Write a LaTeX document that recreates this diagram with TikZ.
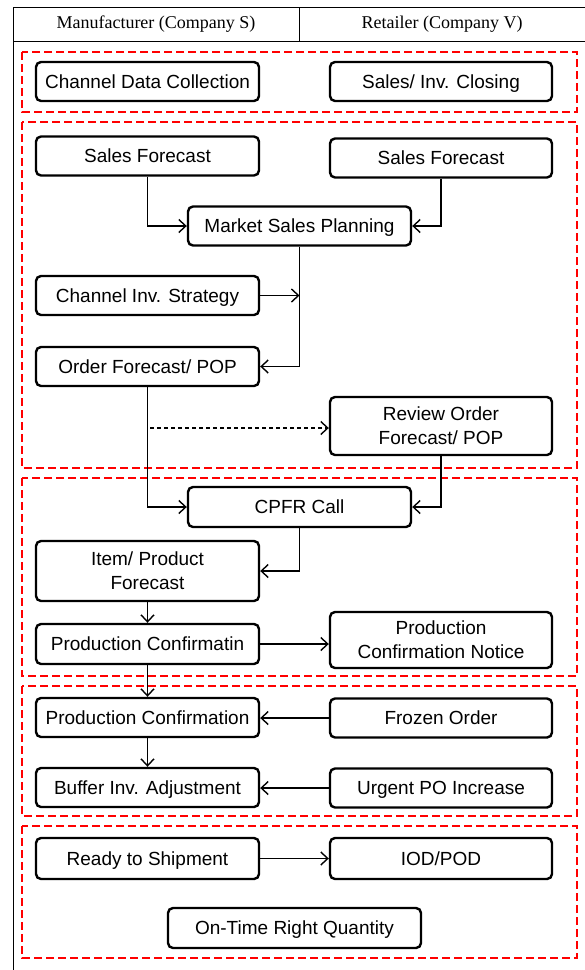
\documentclass[tikz,border=0pt]{standalone}
\usepackage{fontspec}
\setmainfont{Liberation Sans}
\newfontfamily\hdrfont{Liberation Serif}
\usetikzlibrary{arrows.meta}
\begin{document}
\begin{tikzpicture}[x=1pt,y=-1pt,
  box/.style={draw, line width=2.4pt, rounded corners=5pt, inner sep=1pt, align=center,
    font=\fontsize{19}{24}\selectfont, minimum height=39pt, text height=14pt, text depth=1pt},
  ml/.style={text height={}, text depth={}},
  lbox/.style={box, minimum width=223pt},
  rbox/.style={box, minimum width=222pt},
  grp/.style={draw=red, line width=2.8pt, dash pattern=on 8pt off 4pt},
  arr/.style={line width=1.4pt, -{Straight Barb[length=7pt,width=13pt,line width=1.4pt]}},
  frm/.style={line width=1pt},
  hdr/.style={font=\hdrfont\fontsize{18}{20}\selectfont}]
\useasboundingbox (0,0) rectangle (585,970);
% header frame
\draw[frm] (13,7) -- (585,7);
\draw[frm] (13,41) -- (585,41);
\draw[frm] (13,7) -- (13,970);
\draw[frm] (299,7) -- (299,41);
\node[hdr] (h1) at (156,24) {Manufacturer (Company S)};
\node[hdr] (h2) at (442,24) {Retailer (Company V)};
% groups
\draw[grp] (22,52) rectangle (577,112);
\draw[grp] (22,122) rectangle (577,468);
\draw[grp] (22,478) rectangle (577,676);
\draw[grp] (22,686) rectangle (577,816);
\draw[grp] (22,826) rectangle (577,958);
% group 1
\node[lbox] (cdc) at (147.5,81.5) {Channel Data Collection};
\node[rbox] (sic) at (441,81.5) {Sales/ Inv. Closing};
% group 2
\node[lbox] (sfl) at (147.5,156) {Sales Forecast};
\node[rbox] (sfr) at (441,158) {Sales Forecast};
\node[lbox] (msp) at (299.5,226) {Market Sales Planning};
\node[lbox] (cis) at (147.5,295.5) {Channel Inv. Strategy};
\node[lbox] (ofp) at (147.5,366.5) {Order Forecast/ POP};
\node[rbox, ml, minimum height=58pt] (rof) at (441,426) {Review Order\\Forecast/ POP};
\coordinate (dstart) at (150,428);
% group 3
\node[lbox, minimum height=40pt] (cpfr) at (299.5,507) {CPFR Call};
\node[lbox, ml, minimum height=60pt] (ipf) at (147.5,571) {Item/ Product\\Forecast};
\node[lbox, minimum height=40pt] (pc1) at (147.5,644) {Production Confirmatin};
\node[rbox, ml, minimum height=56pt] (pcn) at (441,640) {Production\\Confirmation Notice};
% group 4
\node[lbox] (pc2) at (147.5,717.5) {Production Confirmation};
\node[rbox] (fo) at (441,718) {Frozen Order};
\node[lbox] (bia) at (147.5,787.5) {Buffer Inv. Adjustment};
\node[rbox] (upo) at (441,788) {Urgent PO Increase};
% group 5
\node[lbox, minimum height=41pt] (rts) at (147.5,858.5) {Ready to Shipment};
\node[rbox, minimum height=41pt] (iod) at (441,858.5) {IOD/POD};
\node[box, minimum width=253pt, minimum height=40pt] (otrq) at (294.5,928) {On-Time Right Quantity};
% arrows
\draw[arr] (sfl.south) |- (msp.west);
\draw[arr] (sfr.south) |- (msp.east);
\draw[arr] (msp.south) |- (ofp.east);
\draw[arr] (cis.east) -- (cis.east -| msp.south);
\draw[arr, dash pattern=on 4pt off 3pt] (dstart) -- (dstart -| rof.west);
\draw[arr] (ofp.south) |- (cpfr.west);
\draw[arr] (rof.south) |- (cpfr.east);
\draw[arr] (cpfr.south) |- (ipf.east);
\draw[arr] (ipf.south) -- (pc1.north);
\draw[arr] (pc1.east) -- (pc1.east -| pcn.west);
\draw[arr] (pc1.south) -- (pc2.north);
\draw[arr] (fo.west) -- (fo.west -| pc2.east);
\draw[arr] (pc2.south) -- (bia.north);
\draw[arr] (upo.west) -- (upo.west -| bia.east);
\draw[arr] (rts.east) -- (rts.east -| iod.west);
\end{tikzpicture}
\end{document}
